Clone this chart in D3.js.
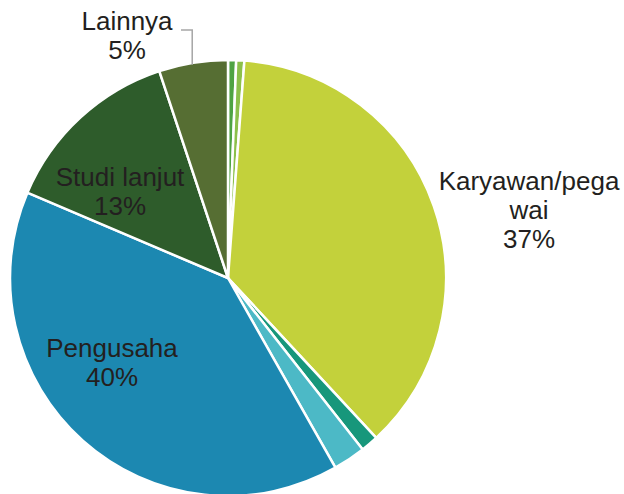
<!DOCTYPE html>
<html>
<head>
<meta charset="utf-8">
<script src="https://cdn.jsdelivr.net/npm/d3@7"></script>
<style>
  body { margin: 0; background: #fff; }
  svg { display: block; }
  .lbl { font-family: "Liberation Sans", Arial, sans-serif; font-size: 26px; fill: #231f20; }
</style>
</head>
<body>
<svg id="chart"></svg>
<script>
// slice order, clockwise from 12 o'clock
const categories = ["Lain A", "Lain B", "Karyawan/pegawai", "Lain C", "Lain D", "Pengusaha", "Studi lanjut", "Lainnya"];
const values = [0.6, 0.6, 36.9, 1.3, 2.4, 39.6, 13.5, 5.1];
const colors = ["#4fa343", "#8cc04a", "#c3d13b", "#17977b", "#4cb9c6", "#1c88b1", "#2e5c2b", "#566e33"];
// label lines for the slices that carry a label
const labelLines = {
    "Karyawan/pegawai": ["Karyawan/pega", "wai", "37%"],
    "Pengusaha": ["Pengusaha", "40%"],
    "Studi lanjut": ["Studi lanjut", "13%"],
    "Lainnya": ["Lainnya", "5%"]
};

const width = 624, height = 494;
const cx = 228, cy = 278, radius = 218;

const svg = d3.select("#chart")
    .attr("width", width)
    .attr("height", height);

const g = svg.append("g")
    .attr("transform", `translate(${cx},${cy})`);

const data = categories.map((c, i) => ({name: c, value: values[i], color: colors[i]}));

const pie = d3.pie()
    .value(d => d.value)
    .sort(null);

const arc = d3.arc()
    .innerRadius(0)
    .outerRadius(radius);

const arcs = pie(data);

g.selectAll("path")
    .data(arcs)
    .join("path")
    .attr("d", arc)
    .attr("fill", d => d.data.color)
    .attr("stroke", "#fff")
    .attr("stroke-width", 2.5)
    .attr("stroke-linejoin", "round");

// label anchor points (relative to centre)
const labelPos = {
    "Karyawan/pegawai": [301, -88],
    "Pengusaha": [-116, 79],
    "Studi lanjut": [-108, -92],
    "Lainnya": [-101, -248]
};

const lineH = 29;
arcs.filter(d => labelLines[d.data.name]).forEach(d => {
    const lines = labelLines[d.data.name];
    const p = labelPos[d.data.name];
    const t = g.append("text")
        .attr("class", "lbl")
        .attr("text-anchor", "middle");
    lines.forEach((s, i) => {
        t.append("tspan")
            .attr("x", p[0])
            .attr("y", p[1] + i * lineH)
            .text(s);
    });
});

// leader line for Lainnya
const lain = arcs.find(d => d.data.name === "Lainnya");
const midA = (lain.startAngle + lain.endAngle) / 2;
const ex = Math.sin(midA) * radius, ey = -Math.cos(midA) * radius;
g.append("path")
    .attr("d", `M${-47},${-248} H${ex - 1} V${ey + 2}`)
    .attr("fill", "none")
    .attr("stroke", "#a6a6a6")
    .attr("stroke-width", 1.5);
</script>
</body>
</html>
